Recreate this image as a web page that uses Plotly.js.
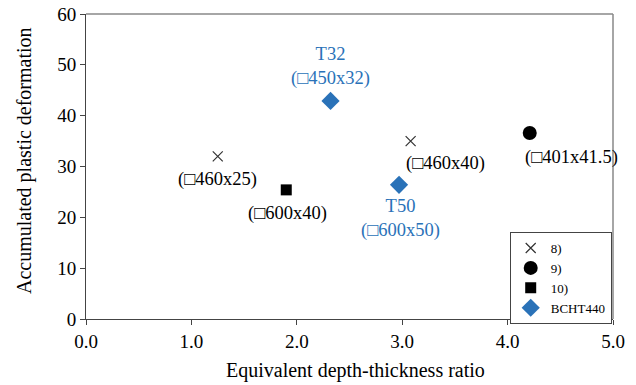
<!DOCTYPE html>
<html>
<head>
<meta charset="utf-8">
<script src="https://cdn.plot.ly/plotly-3.0.1.min.js"></script>
<style>html,body{margin:0;padding:0;background:#fff}#chart{width:636px;height:385px}</style>
</head>
<body>
<div id="chart"></div>
<script>
// Data
const s8x = [1.25, 3.08];
const s8y = [32, 35];
const s8labels = ["(\u25A1460x25)", "(\u25A1460x40)"];
const s9x = [4.21];
const s9y = [36.6];
const s9labels = ["(\u25A1401x41.5)"];
const s10x = [1.90];
const s10y = [25.4];
const s10labels = ["(\u25A1600x40)"];
const bchtX = [2.32, 2.97];
const bchtY = [42.9, 26.4];
const bchtLabels = ["T32<br>(\u25A1450x32)", "T50<br>(\u25A1600x50)"];
const seriesNames = ["8)", "9)", "10)", "BCHT440"];
const xTicks = [0, 1, 2, 3, 4, 5];
const xTickText = ["0.0", "1.0", "2.0", "3.0", "4.0", "5.0"];
const yTicks = [0, 10, 20, 30, 40, 50, 60];
const xTitle = "Equivalent depth-thickness ratio";
const yTitle = "Accumulated plastic deformation";

const FONT = "'Liberation Serif', 'Times New Roman', Times, serif";
const BLUE = "#2a72b8";

const traces = [
  {x: s8x, y: s8y, name: seriesNames[0], mode: "markers", type: "scatter",
   marker: {symbol: "x-thin", size: 10, line: {color: "#333", width: 1.2}, color: "#333"}},
  {x: s9x, y: s9y, name: seriesNames[1], mode: "markers", type: "scatter",
   marker: {symbol: "circle", size: 14, color: "#000"}},
  {x: s10x, y: s10y, name: seriesNames[2], mode: "markers", type: "scatter",
   marker: {symbol: "square", size: 11, color: "#000"}},
  {x: bchtX, y: bchtY, name: seriesNames[3], mode: "markers", type: "scatter",
   marker: {symbol: "diamond", size: 14, color: BLUE}}
];

const annotations = [];
function addLabels(xs, ys, labels, offs, color) {
  xs.forEach((x, i) => {
    annotations.push({x: x, y: ys[i], xref: "x", yref: "y", text: labels[i], showarrow: false,
      xshift: offs[i][0], yshift: offs[i][1], font: {family: FONT, size: 18.5, color: color}});
  });
}
addLabels(s8x, s8y, s8labels, [[0, -23], [35, -22]], "#000");
addLabels(s9x, s9y, s9labels, [[42, -25]], "#000");
addLabels(s10x, s10y, s10labels, [[1, -24]], "#000");
addLabels(bchtX, bchtY, bchtLabels, [[0, 34], [1, -34]], BLUE);

// axis titles placed as annotations
annotations.push({xref: "paper", yref: "paper", x: 0.5123, y: 0, yanchor: "middle", xanchor: "center",
  yshift: -51, text: xTitle, showarrow: false, font: {family: FONT, size: 20, color: "#000"}});
annotations.push({xref: "paper", yref: "paper", x: 0, y: 0.518, xanchor: "center", yanchor: "middle",
  xshift: -62, textangle: -90, text: yTitle, showarrow: false, font: {family: FONT, size: 20, color: "#000"}});

const layout = {
  width: 636, height: 385,
  margin: {l: 86, r: 23, t: 14, b: 66},
  paper_bgcolor: "#fff", plot_bgcolor: "#fff",
  font: {family: FONT, size: 18, color: "#000"},
  showlegend: true,
  legend: {x: 0.804, y: 0.285, xanchor: "left", yanchor: "top", bordercolor: "#444", borderwidth: 1,
    bgcolor: "#fff", font: {family: FONT, size: 13, color: "#000"}, itemwidth: 30,
    tracegroupgap: 0},
  xaxis: {range: [0, 5], tickvals: xTicks, ticktext: xTickText, showgrid: false, zeroline: false,
    showline: true, linecolor: "#444", linewidth: 1, ticks: "outside", ticklen: 5, tickcolor: "#444",
    tickfont: {family: FONT, size: 19}, fixedrange: true},
  yaxis: {range: [0, 60], tickvals: yTicks, showgrid: false, zeroline: false,
    showline: true, linecolor: "#444", linewidth: 1, ticks: "outside", ticklen: 5, tickcolor: "#444",
    tickfont: {family: FONT, size: 19}, fixedrange: true},
  shapes: [
    {type: "line", xref: "paper", yref: "paper", x0: 0, x1: 1, y0: 1, y1: 1, line: {color: "#888", width: 1.5}},
    {type: "line", xref: "paper", yref: "paper", x0: 1, x1: 1, y0: 0, y1: 1, line: {color: "#888", width: 1.5}}
  ],
  annotations: annotations
};

Plotly.newPlot("chart", traces, layout, {displayModeBar: false, staticPlot: true});
</script>
</body>
</html>
